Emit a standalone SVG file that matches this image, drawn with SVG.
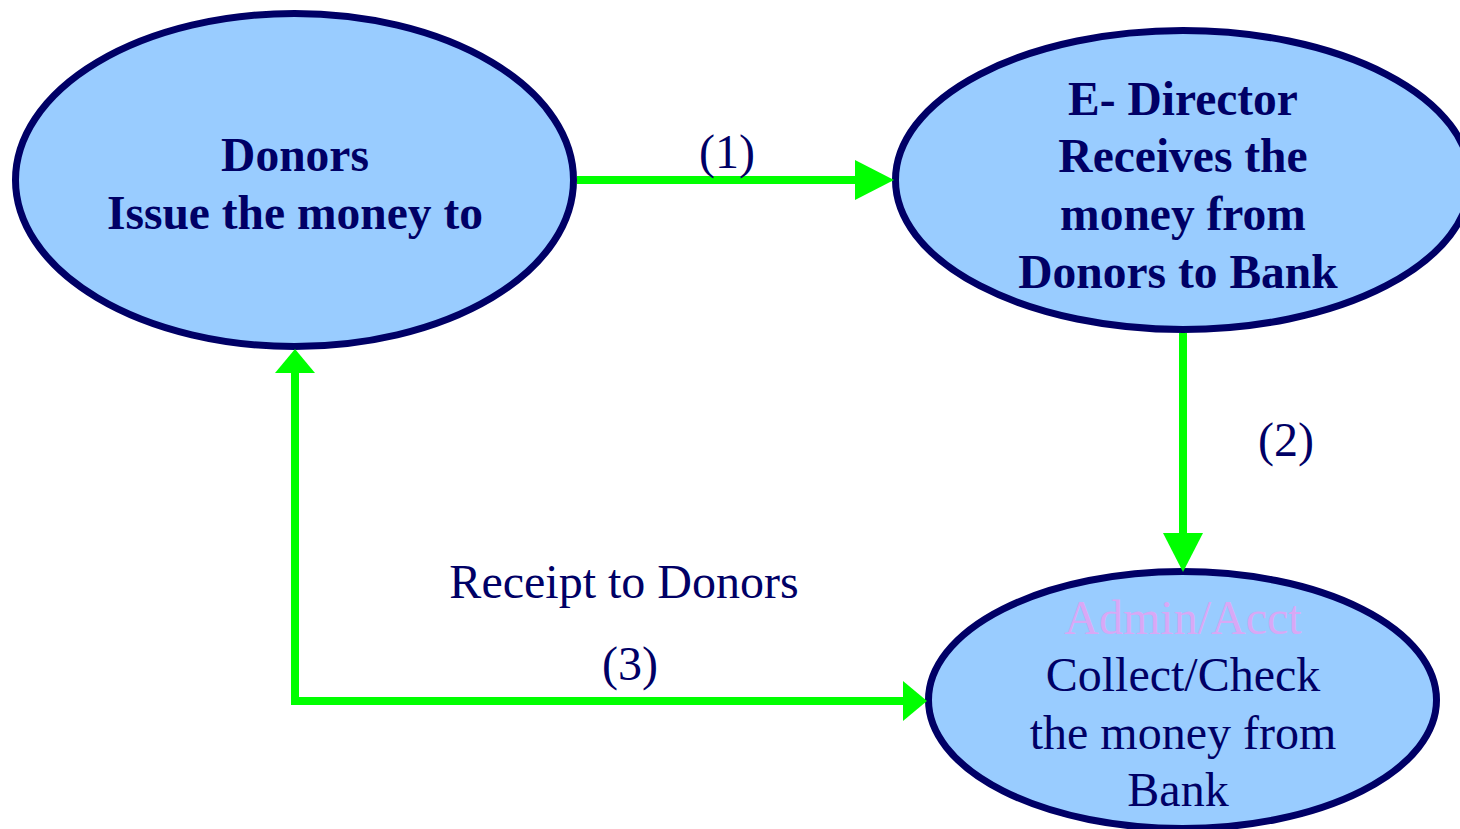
<svg xmlns="http://www.w3.org/2000/svg" width="1460" height="829" viewBox="0 0 1460 829">
<style>
.node{fill:#99CCFF;stroke:#000066;stroke-width:7}
.t{font-family:"Liberation Serif","Times New Roman",serif;font-size:48px;fill:#000066;text-anchor:middle}
.b{font-weight:bold;font-size:47.5px}
.conn{stroke:#00FF00;stroke-width:8;fill:none}
.head{fill:#00FF00}
</style>
<rect width="1460" height="829" fill="#FFFFFF"/>
<g id="donors">
<ellipse class="node" cx="294.5" cy="180" rx="279" ry="166.5"/>
<text class="t b" x="295" y="171">Donors</text>
<text class="t b" x="295" y="229">Issue the money to</text>
</g>
<g id="edirector">
<ellipse class="node" cx="1183" cy="180" rx="287.5" ry="149.5"/>
<text class="t b" x="1183" y="115">E- Director</text>
<text class="t b" x="1183" y="172">Receives the</text>
<text class="t b" x="1183" y="230">money from</text>
<text class="t b" x="1178" y="288">Donors to Bank</text>
</g>
<g id="adminacct">
<ellipse class="node" cx="1182.5" cy="700" rx="254" ry="128.5"/>
<text class="t" x="1183" y="634" style="fill:#D9A8F5">Admin/Acct</text>
<text class="t" x="1183" y="691">Collect/Check</text>
<text class="t" x="1183" y="749">the money from</text>
<text class="t" x="1178" y="806">Bank</text>
</g>
<g id="connectors">
<line class="conn" x1="577" y1="180" x2="857" y2="180"/>
<polygon class="head" points="894,180 855,160 855,200"/>
<line class="conn" x1="1183" y1="333" x2="1183" y2="535"/>
<polygon class="head" points="1183,572 1163,533 1203,533"/>
<polyline class="conn" points="295,371 295,701 905,701"/>
<polygon class="head" points="295,349 275,373 315,373"/>
<polygon class="head" points="927,701 903,681 903,721"/>
<text class="t" x="727" y="168">(1)</text>
<text class="t" x="1286" y="456">(2)</text>
<text class="t" x="624" y="598">Receipt to Donors</text>
<text class="t" x="630" y="680">(3)</text>
</g>
</svg>
